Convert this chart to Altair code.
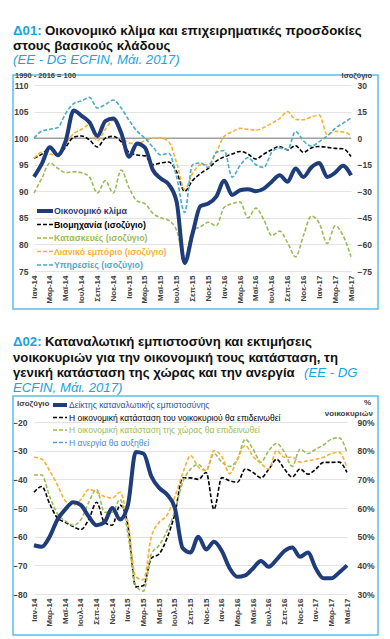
import altair as alt
import pandas as pd

FONT = "Liberation Sans"
NAVY = "#1f3d7a"
TBLUE = "#1aa3dd"
BOX = "#5bbfe8"
AX = "#404040"

# ---------------- data ----------------
month_names = ["Ιαν", "Φεβ", "Μαρ", "Απρ", "Μαϊ", "Ιουν", "Ιουλ", "Αυγ", "Σεπ", "Οκτ", "Νοε", "Δεκ"]
years = ["14", "15", "16", "17"]
months = [f"{m}-{y}" for y in years for m in month_names][:41]
tick_labels = months[::2]

# Chart 1 (left axis: index 1990-2016=100, right axis: balance)
climate = [92.7, 95.2, 98.3, 96.8, 99.5, 105.2, 104.2, 103.0, 100.4, 103.2, 103.7, 101.0, 96.5, 99.0,
           98.2, 94.0, 92.4, 91.3, 88.0, 76.5, 82.0, 87.2, 87.7, 89.0, 92.0, 89.3, 90.2, 90.4, 90.0,
           90.5, 91.8, 93.0, 91.8, 94.3, 92.7, 94.5, 95.3, 92.7, 93.5, 94.8, 93.0]
industry = [-11.4, -9.0, -5.8, -9.5, -5.0, 0.5, 1.2, -1.0, -5.0, 0.0, 1.0, -2.0, -8.0, -9.5, -10.0,
            -15.0, -14.0, -13.5, -19.0, -30.0, -24.0, -20.0, -17.0, -13.0, -10.5, -9.0, -7.5, -9.0,
            -11.8, -9.0, -6.5, -4.7, -6.6, -4.2, -8.0, -5.5, -4.7, -5.2, -5.8, -6.0, -10.4]
construction = [-31.0, -22.5, -14.0, -17.0, -19.5, -19.0, -19.5, -22.0, -31.0, -24.0, -31.0, -18.0,
                -28.0, -35.5, -37.0, -42.5, -45.0, -46.5, -52.0, -68.0, -52.0, -50.0, -47.5, -49.5,
                -39.0, -37.0, -36.0, -45.0, -39.5, -46.0, -55.0, -52.5, -59.0, -67.0, -55.0, -44.0,
                -48.0, -59.5, -49.5, -55.0, -67.0]
retail = [-11.4, -8.0, -9.0, -9.5, -3.0, 2.5, 5.0, 7.6, -1.5, 5.0, 10.0, 2.0, -2.8, -3.0, -1.5, 0.0,
          0.0, -2.0, -14.0, -29.0, -20.0, -15.0, -15.0, -8.0, 1.0, 3.5, 5.5, 5.0, 4.5, 6.0, 8.5, 11.0,
          15.0, 10.5, 10.4, 12.0, 13.0, 2.0, 3.8, 3.5, 1.5]
services = [0.0, 4.0, 5.0, 6.0, 14.0, 19.5, 21.0, 23.0, 17.0, 19.0, 21.5, 17.0, 10.0, 4.0, 0.0, -5.0,
            -9.5, -8.5, -22.0, -42.0, -15.0, -14.0, -16.5, -8.0, -7.0, -22.0, -15.5, -11.0, -15.0,
            -16.5, -8.0, -5.5, -6.5, 3.8, -1.5, -4.5, -2.0, 1.2, 5.5, 8.5, 11.4]

names1 = ["Οικονομικό κλίμα", "Βιομηχανία (ισοζύγιο)", "Κατασκευές (ισοζύγιο)",
          "Λιανικό εμπόριο (ισοζύγιο)", "Υπηρεσίες (ισοζύγιο)"]
colors1 = [NAVY, "#000000", "#9bbb59", "#f5b335", "#4bacc6"]
left_ticks1 = [75, 80, 85, 90, 95, 100, 105, 110]
right_ticks1 = [-75, -60, -45, -30, -15, 0, 15, 30]

# Chart 2 (left axis: balance, right axis: % of households)
confidence = [-63.0, -63.5, -60.0, -54.0, -50.5, -48.0, -49.0, -53.0, -56.0, -55.0, -50.0, -54.0,
              -49.0, -30.5, -31.0, -39.0, -43.0, -45.3, -50.0, -64.0, -65.5, -60.0, -64.5, -61.8,
              -65.0, -71.0, -74.0, -73.5, -71.0, -68.5, -70.5, -68.0, -65.0, -63.8, -67.0, -65.5,
              -71.0, -74.5, -74.5, -72.5, -70.0]
household = [65.5, 67.5, 61.5, 56.5, 55.0, 53.5, 52.5, 56.0, 62.0, 55.0, 54.0, 61.0, 54.0, 32.5, 33.0,
             42.5, 44.0, 49.5, 58.0, 70.5, 70.5, 70.0, 72.4, 59.5, 70.6, 69.5, 69.0, 73.6, 72.4, 70.5,
             73.5, 77.0, 73.6, 70.8, 73.6, 71.8, 73.5, 75.9, 75.9, 76.0, 72.4]
country = [71.5, 71.5, 64.0, 58.0, 55.5, 54.0, 56.0, 62.0, 66.5, 58.5, 58.5, 63.0, 51.0, 33.0, 31.0,
           44.0, 47.0, 52.0, 59.0, 69.0, 73.5, 75.2, 73.0, 79.0, 76.0, 74.5, 77.0, 84.0, 80.5, 76.0,
           80.0, 82.5, 79.5, 74.5, 80.5, 79.0, 80.5, 82.0, 84.0, 84.5, 79.4]
unemployment = [77.7, 77.0, 73.0, 68.0, 62.5, 61.0, 63.0, 66.5, 65.5, 64.0, 63.5, 65.5, 55.0, 36.0,
                35.0, 50.0, 55.0, 57.5, 64.0, 72.0, 78.3, 74.3, 73.0, 80.0, 78.0, 72.0, 77.0, 81.8,
                78.0, 75.5, 73.6, 80.0, 77.7, 77.7, 76.0, 76.5, 77.0, 77.7, 79.0, 79.4, 74.1]

names2 = ["Δείκτης καταναλωτικής εμπιστοσύνης",
          "Η οικονομική κατάσταση του νοικοκυριού θα επιδεινωθεί",
          "Η οικονομική κατάσταση της χώρας θα επιδεινωθεί",
          "Η ανεργία θα αυξηθεί"]
colors2 = [NAVY, "#000000", "#9bbb59", "#5b9bd5"]
label_colors2 = ["#2f4f9a", "#000000", "#9bbb59", "#4a8ad0"]
left_ticks2 = [-80, -70, -60, -50, -40, -30, -20]
right_ticks2 = [30, 40, 50, 60, 70, 80, 90]

one = pd.DataFrame({"k": [0]})


def xenc():
    return alt.X("month:O", sort=months, scale=alt.Scale(type="point", padding=0),
                 axis=alt.Axis(values=tick_labels, labelAngle=270, title=None, domain=False,
                               ticks=False, grid=False, labelFont=FONT, labelFontSize=8,
                               labelFontWeight="bold", labelColor=AX, labelPadding=4,
                               labelOverlap=False))


def yaxis(orient, values, pad, grid, expr=None):
    kw = dict(orient=orient, values=values, title=None, domain=False, ticks=False, grid=grid,
              gridColor="#e3e3e3", labelFont=FONT, labelFontSize=8.5, labelFontWeight="bold",
              labelColor=AX, labelPadding=pad, labelOverlap=False)
    if expr:
        kw["labelExpr"] = expr
    return alt.Axis(**kw)


def text(t, x, y, size=9, color=AX, weight="normal", style="normal", align="left",
         baseline="alphabetic"):
    return alt.Chart(one).mark_text(font=FONT, fontSize=size, color=color, fontWeight=weight,
                                    fontStyle=style, align=align, baseline=baseline).encode(
        x=alt.value(x), y=alt.value(y), text=alt.value(t))


def box(x1, x2, y1, y2):
    return alt.Chart(one).mark_rect(fillOpacity=0, stroke=BOX, strokeWidth=1.5).encode(
        x=alt.value(x1), x2=alt.value(x2), y=alt.value(y1), y2=alt.value(y2))


def legend(names, line_colors, text_colors, y0, dy, sx1, sx2, tx, size, weight, solid_width):
    df = pd.DataFrame({"label": names, "lc": line_colors, "tc": text_colors,
                       "row": list(range(len(names)))})
    base = alt.Chart(df).transform_calculate(ly=f"{y0} + datum.row * {dy}")
    sym_solid = base.transform_filter("datum.row == 0").mark_rule(strokeWidth=solid_width).encode(
        x=alt.value(sx1), x2=alt.value(sx2), y=alt.Y("ly:Q", scale=None, axis=None),
        color=alt.Color("lc:N", scale=None, legend=None))
    sym_dash = base.transform_filter("datum.row > 0").mark_rule(
        strokeWidth=1.6, strokeDash=[4, 2]).encode(
        x=alt.value(sx1), x2=alt.value(sx2), y=alt.Y("ly:Q", scale=None, axis=None),
        color=alt.Color("lc:N", scale=None, legend=None))
    labels = base.mark_text(font=FONT, fontSize=size, fontWeight=weight, align="left",
                            baseline="middle").encode(
        x=alt.value(tx), y=alt.Y("ly:Q", scale=None, axis=None), text="label:N",
        color=alt.Color("tc:N", scale=None, legend=None))
    return [sym_solid, sym_dash, labels]


# ---------------- panel 1 ----------------
W1, H1 = 317, 186
df1_left = pd.DataFrame({"month": months, "value": climate})
df1_right = pd.DataFrame({"month": months * 4,
                          "series": sum([[n] * 41 for n in names1[1:]], []),
                          "value": industry + construction + retail + services})

right_scale1 = alt.Scale(domain=[-75, 30], nice=False, zero=False)
ref1 = alt.Chart(one).mark_rule(color="#a0a0a0", strokeWidth=1.5).encode(
    y=alt.YDatum(0, scale=right_scale1, axis=yaxis("right", right_ticks1, 6, False)))
right1 = alt.Chart(df1_right).mark_line(strokeWidth=1.6, strokeDash=[4, 2],
                                        interpolate="monotone").encode(
    x=xenc(),
    y=alt.Y("value:Q", scale=right_scale1, axis=yaxis("right", right_ticks1, 6, False)),
    color=alt.Color("series:N", scale=alt.Scale(domain=names1[1:], range=colors1[1:]), legend=None))
left1 = alt.Chart(df1_left).mark_line(color=NAVY, strokeWidth=4, interpolate="monotone").encode(
    x=xenc(),
    y=alt.Y("value:Q", scale=alt.Scale(domain=[75, 110], nice=False, zero=False),
            axis=yaxis("left", left_ticks1, 6, True)))

anchor = alt.Chart(one).mark_rect(color="white").encode(
    x=alt.value(-26), x2=alt.value(-25), y=alt.value(-77), y2=alt.value(-76))

p1_layers = [anchor, box(-21, 344, -10, 224),
             alt.layer(ref1, right1), left1,
             text("1990 - 2016 = 100", -19, -9.5, 7.5, weight="bold", baseline="middle"),
             text("Ισοζύγιο", 338, -9.5, 7.5, weight="bold", align="right", baseline="middle"),
             text("Δ01:", -21, -50, 13.3, TBLUE, "bold"),
             text("Οικονομικό κλίμα και επιχειρηματικές προσδοκίες", 11, -50, 13.3, "#111111", "bold"),
             text("στους βασικούς κλάδους", -21, -35.5, 13.3, "#111111", "bold"),
             text("(ΕΕ - DG ECFIN, Μάι. 2017)", -21, -21, 13.2, TBLUE, style="italic")]
p1_layers += legend(names1, colors1, colors1, 126, 13.5, 3, 19, 20, 8.8, "bold", 4)
p1 = alt.layer(*p1_layers).resolve_scale(y="independent").properties(width=W1, height=H1)

# ---------------- panel 2 ----------------
W2, H2 = 313, 172
df2_left = pd.DataFrame({"month": months, "value": confidence})
df2_right = pd.DataFrame({"month": months * 3,
                          "series": sum([[n] * 41 for n in names2[1:]], []),
                          "value": household + country + unemployment})

right2 = alt.Chart(df2_right).mark_line(strokeWidth=1.6, strokeDash=[4, 2],
                                        interpolate="monotone").encode(
    x=xenc(),
    y=alt.Y("value:Q", scale=alt.Scale(domain=[30, 90], nice=False, zero=False),
            axis=yaxis("right", right_ticks2, 10, False, "datum.value + '%'")),
    color=alt.Color("series:N", scale=alt.Scale(domain=names2[1:], range=colors2[1:]), legend=None))
left2 = alt.Chart(df2_left).mark_line(color=NAVY, strokeWidth=4, interpolate="monotone").encode(
    x=xenc(),
    y=alt.Y("value:Q", scale=alt.Scale(domain=[-80, -20], nice=False, zero=False),
            axis=yaxis("left", left_ticks2, 7, True)))

p2_layers = [box(-21, 344, -26, 213), right2, left2,
             text("Ισοζύγιο", -17, -18, 8, weight="bold", baseline="middle"),
             text("%", 337, -19, 8, weight="bold", align="right", baseline="middle"),
             text("νοικοκυριών", 339, -8, 8, weight="bold", align="right", baseline="middle"),
             text("Δ02:", -21, -76, 13.2, TBLUE, "bold"),
             text("Καταναλωτική εμπιστοσύνη και εκτιμήσεις", 11, -76, 13.2, "#111111", "bold"),
             text("νοικοκυριών για την οικονομική τους κατάσταση, τη", -21, -60.5, 13.2, "#111111", "bold"),
             text("γενική κατάσταση της χώρας και την ανεργία", -21, -45, 13.2, "#111111", "bold"),
             text("(ΕΕ - DG", 270, -45, 13.2, TBLUE, style="italic"),
             text("ECFIN, Μάι. 2017)", -21, -30, 13.2, TBLUE, style="italic")]
p2_layers += legend(names2, colors2, label_colors2, -17, 12.5, 19, 33, 35, 8.5, "normal", 4)
p2 = alt.layer(*p2_layers).resolve_scale(y="independent").properties(width=W2, height=H2)

chart = alt.vconcat(p1, p2, spacing=151, bounds="flush").properties(
    padding={"left": 0, "top": 0, "right": 0, "bottom": 0}
).configure_view(strokeWidth=0)

chart.save("out.html", embed_options={"renderer": "svg", "actions": False})
